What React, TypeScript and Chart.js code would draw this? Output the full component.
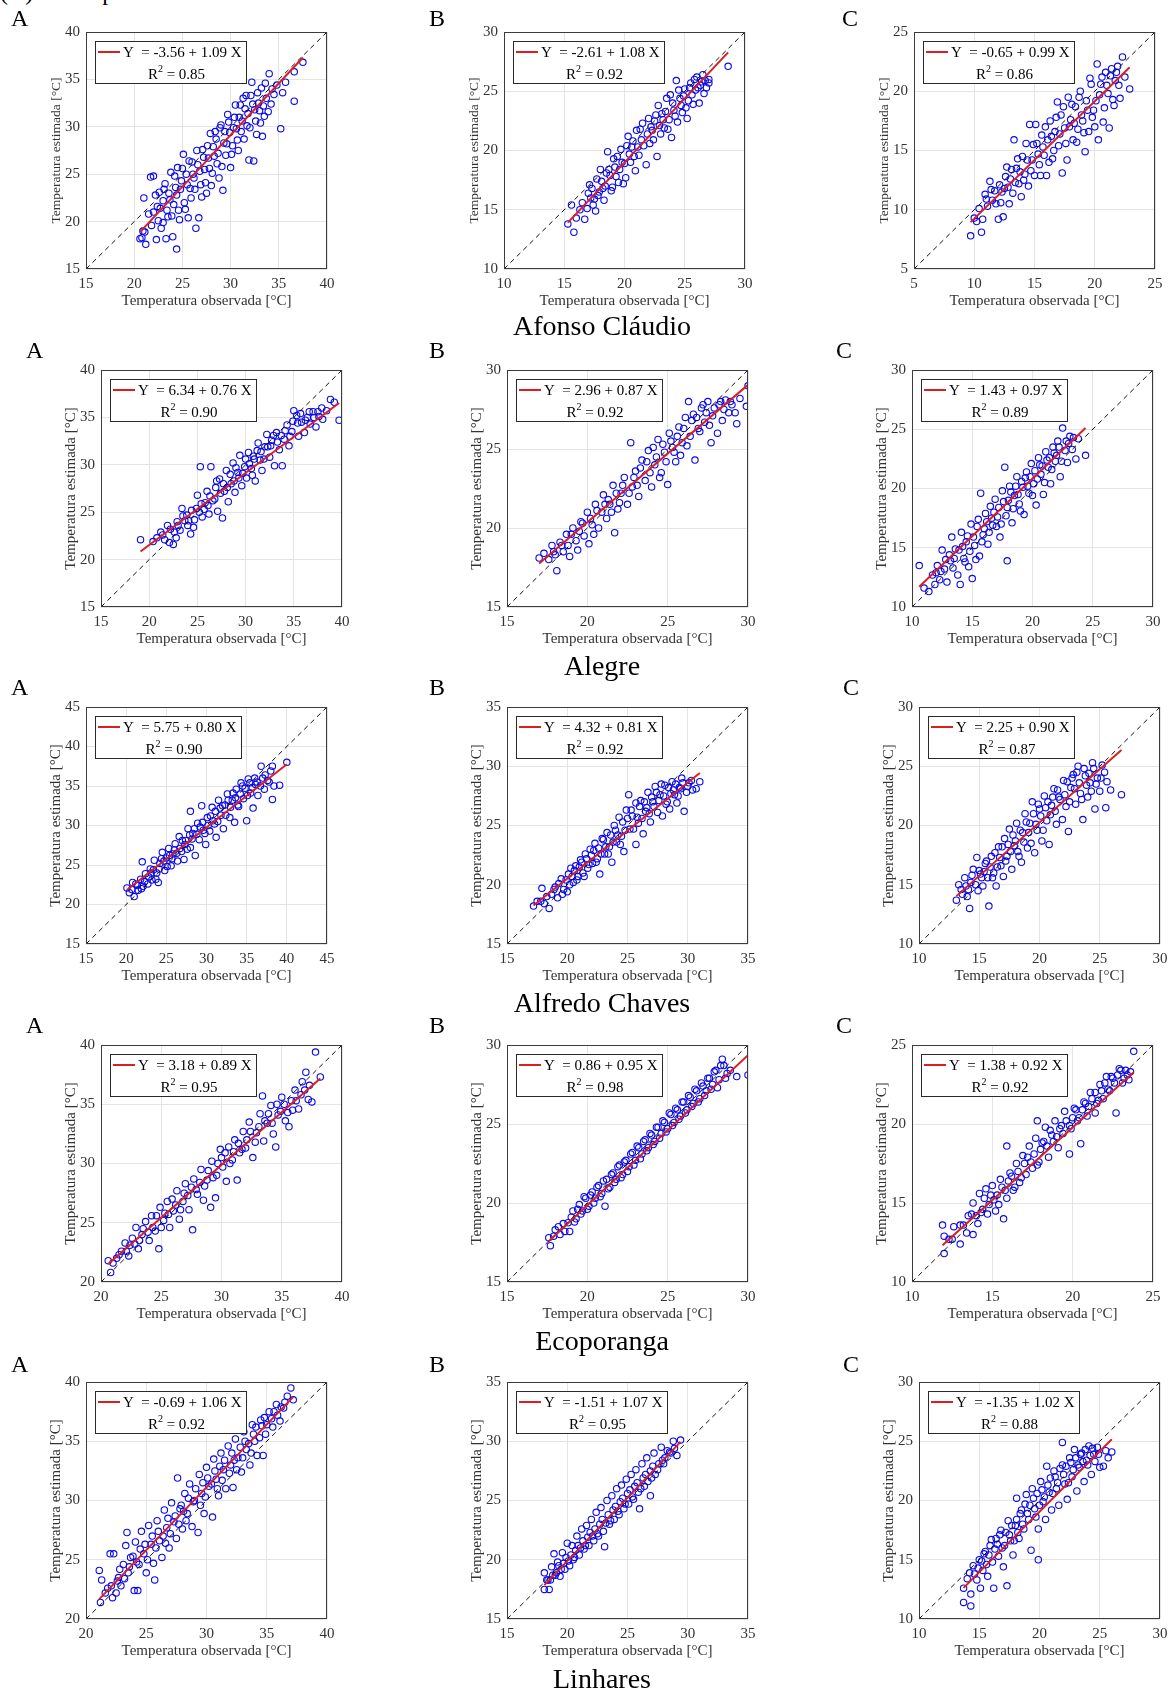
import React, { useEffect, useRef } from 'react';
import { Chart, registerables } from 'chart.js';

Chart.register(...registerables);

type Pt = [number, number];

// ---------- data: [observed, estimated] pairs ----------
const afonsoA: Pt[] = [[20.8,18.3],[20.9,19.0],[21.1,18.9],[21.2,17.6],[20.6,18.2],[21.0,22.5],[21.5,20.8],[21.7,24.7],[22.0,24.8],[21.8,19.6],[22.3,18.1],[22.4,21.6],[22.6,23.1],[22.8,19.3],[23.0,22.2],[23.2,24.0],[23.3,18.2],[23.5,20.5],[23.6,23.0],[23.8,25.2],[24.0,18.4],[24.1,21.8],[24.3,23.6],[24.4,17.1],[24.5,25.7],[24.7,20.2],[24.9,24.3],[25.1,27.1],[25.2,22.0],[25.4,25.0],[25.6,20.4],[25.8,23.5],[26.0,26.3],[26.2,24.6],[26.4,19.3],[26.5,27.5],[26.7,20.4],[26.8,25.3],[27.0,22.6],[27.2,26.8],[27.4,24.1],[27.6,28.0],[27.8,25.6],[28.0,23.8],[28.2,27.9],[28.4,29.5],[28.6,26.1],[28.8,24.6],[29.0,30.2],[29.2,23.3],[29.3,28.3],[29.5,27.0],[29.7,31.3],[29.9,29.4],[30.0,25.7],[30.2,28.0],[30.4,31.0],[30.6,29.8],[30.8,27.5],[31.0,32.3],[31.2,30.6],[31.4,28.7],[31.6,33.3],[31.8,31.4],[31.9,26.5],[32.0,29.9],[32.2,34.7],[32.3,32.4],[32.4,26.4],[32.6,30.6],[32.8,33.6],[33.0,31.7],[33.2,34.1],[33.3,29.0],[33.5,31.1],[33.7,33.0],[34.0,35.6],[34.2,32.4],[34.5,33.4],[34.8,34.4],[35.2,29.8],[35.4,33.6],[35.7,34.7],[36.6,32.7],[36.6,35.8],[37.5,36.8],
  [22.0,21.0],[22.2,22.8],[22.5,20.1],[22.7,21.4],[23.0,19.9],[23.1,23.4],[23.4,21.2],[23.7,22.3],[23.9,20.6],[24.2,24.8],[24.4,22.8],[24.6,21.2],[24.8,23.4],[25.0,25.6],[25.3,21.3],[25.5,23.9],[25.7,26.4],[25.9,22.5],[26.1,25.0],[26.3,23.4],[26.6,26.0],[26.9,23.9],[27.1,27.6],[27.3,25.5],[27.5,23.0],[27.7,26.7],[27.9,29.3],[28.1,25.1],[28.3,26.9],[28.5,28.7],[28.7,27.2],[28.9,29.9],[29.1,25.8],[29.4,29.5],[29.6,28.2],[29.8,30.5],[30.1,27.1],[30.3,29.9],[30.5,32.3],[30.7,28.6],[30.9,31.0],[31.1,29.5],[31.3,33.0],[31.5,31.9],[31.7,30.1],[32.1,33.3],[32.5,31.8],[32.7,29.2],[32.9,32.5],[33.1,30.4],[33.4,32.2],[33.6,34.6],[33.9,31.6],[34.3,34.0]];
const afonsoB: Pt[] = [[15.3,13.8],[15.6,15.4],[15.8,13.1],[16.0,14.3],[16.3,15.0],[16.5,15.6],[16.7,14.2],[16.9,15.1],[17.1,17.1],[17.2,16.0],[17.4,15.4],[17.6,14.9],[17.7,17.6],[17.9,16.5],[18.1,17.4],[18.3,15.8],[18.5,18.1],[18.6,19.9],[18.8,17.9],[19.0,16.9],[19.2,18.6],[19.4,19.5],[19.5,17.3],[19.7,20.1],[19.9,17.2],[20.0,18.9],[20.2,20.4],[20.3,21.2],[20.5,19.0],[20.7,20.8],[20.9,18.3],[21.0,21.7],[21.2,19.6],[21.4,20.9],[21.5,22.3],[21.8,18.8],[22.0,22.7],[22.1,20.6],[22.3,21.7],[22.5,22.5],[22.7,19.5],[22.8,23.8],[23.0,21.4],[23.2,22.6],[23.4,23.3],[23.6,21.8],[23.8,24.7],[23.9,21.1],[24.1,23.4],[24.3,25.9],[24.4,22.4],[24.6,24.4],[24.8,23.2],[25.0,25.2],[25.2,22.7],[25.3,24.2],[25.5,25.7],[25.7,23.9],[25.9,25.1],[26.0,26.2],[26.2,24.0],[26.3,25.5],[26.5,26.4],[26.6,24.8],[26.8,25.3],[27.0,26.0],[27.0,25.7],[28.6,27.1],
  [17.0,16.4],[17.3,16.8],[17.5,15.9],[17.8,16.2],[18.0,18.4],[18.2,16.8],[18.4,17.0],[18.7,18.4],[18.9,16.6],[19.1,19.3],[19.3,17.8],[19.6,18.4],[19.8,19.0],[20.1,17.7],[20.4,19.7],[20.6,20.3],[20.8,19.5],[21.1,20.3],[21.3,21.8],[21.6,20.4],[21.9,21.4],[22.2,22.0],[22.4,20.9],[22.6,23.0],[22.9,22.1],[23.1,23.1],[23.3,21.9],[23.5,24.4],[23.7,22.6],[24.0,24.0],[24.2,22.9],[24.5,25.1],[24.7,23.8],[24.9,24.6],[25.1,23.6],[25.4,25.3],[25.6,24.7],[25.8,26.0],[26.1,25.3],[26.4,25.8],[26.7,25.9]];
const afonsoC: Pt[] = [[9.7,7.8],[10.0,9.3],[10.2,9.0],[10.4,10.1],[10.6,8.1],[10.7,9.2],[10.9,11.3],[11.1,10.3],[11.3,12.4],[11.5,10.8],[11.7,11.6],[12.0,9.2],[12.1,12.1],[12.2,10.6],[12.4,9.4],[12.5,11.8],[12.7,13.6],[12.9,10.5],[13.0,12.6],[13.2,11.4],[13.3,15.9],[13.5,13.5],[13.7,12.2],[13.9,11.1],[14.0,14.5],[14.2,13.0],[14.3,15.6],[14.5,12.0],[14.6,17.2],[14.8,14.2],[15.0,12.9],[15.1,17.2],[15.2,15.6],[15.4,13.8],[15.6,16.3],[15.8,14.6],[16.0,12.9],[16.1,15.9],[16.3,17.5],[16.5,14.3],[16.7,16.6],[16.9,19.1],[17.0,15.4],[17.2,18.0],[17.3,13.1],[17.5,16.9],[17.7,14.2],[17.8,19.5],[18.0,17.6],[18.2,15.9],[18.4,18.7],[18.6,16.8],[18.8,20.0],[19.0,17.5],[19.2,14.9],[19.3,19.2],[19.5,16.6],[19.7,20.6],[19.9,18.4],[20.0,17.0],[20.2,22.3],[20.3,15.9],[20.4,19.7],[20.6,21.2],[20.8,18.6],[21.0,20.5],[21.2,16.9],[21.4,21.9],[21.5,19.3],[21.7,20.9],[21.9,22.1],[22.1,19.4],[22.3,22.9],[22.5,21.2],[22.9,20.2],
  [11.0,10.9],[11.4,11.7],[11.8,10.5],[12.3,11.5],[12.6,12.8],[12.8,11.9],[13.1,13.4],[13.4,12.3],[13.6,14.3],[13.8,13.2],[14.1,12.5],[14.4,14.2],[14.7,13.3],[14.9,15.5],[15.3,14.7],[15.5,12.9],[15.7,15.3],[15.9,17.0],[16.2,14.0],[16.4,16.2],[16.6,15.0],[16.8,17.8],[17.1,16.4],[17.4,18.7],[17.6,15.6],[17.9,17.0],[18.1,18.9],[18.3,17.3],[18.5,15.7],[18.7,19.5],[18.9,18.0],[19.1,16.5],[19.4,18.4],[19.6,21.1],[19.8,17.8],[20.1,19.2],[20.5,20.6],[20.7,17.4],[20.9,21.6],[21.1,19.8],[21.3,21.3],[21.6,18.8],[21.8,21.6],[22.0,20.5]];

const alegreA: Pt[] = [[19.1,22.1],[20.4,21.9],[20.8,22.3],[21.2,22.9],[21.6,22.1],[21.9,23.6],[22.1,21.8],[22.5,21.6],[22.6,22.9],[22.9,24.0],[23.2,23.1],[23.4,25.4],[23.7,24.1],[24.0,23.6],[24.3,22.7],[24.4,25.2],[24.7,24.2],[25.0,26.8],[25.2,25.0],[25.3,29.8],[25.5,24.5],[25.8,26.0],[26.0,27.2],[26.2,24.8],[26.4,29.8],[26.6,26.2],[26.9,27.6],[27.1,25.1],[27.3,28.5],[27.6,24.4],[27.8,27.2],[28.0,29.4],[28.2,26.1],[28.5,28.0],[28.7,30.2],[28.9,27.1],[29.2,29.2],[29.4,31.0],[29.6,27.8],[29.9,29.8],[30.1,28.6],[30.3,31.3],[30.6,29.6],[30.8,30.9],[31.0,28.3],[31.3,32.3],[31.5,30.5],[31.7,29.4],[32.0,31.9],[32.2,33.2],[32.5,30.8],[32.7,32.6],[33.0,29.9],[33.2,33.4],[33.5,31.6],[33.8,29.9],[34.0,32.7],[34.3,34.2],[34.5,32.0],[34.8,33.5],[35.0,35.7],[35.3,35.2],[35.5,33.0],[35.8,34.5],[36.1,33.4],[36.4,35.0],[36.7,34.3],[37.0,35.6],[37.3,34.0],[37.6,35.1],[38.0,34.8],[38.4,35.7],[38.8,36.9],[39.2,36.6],[39.7,34.7],
  [21.4,22.6],[22.2,23.2],[22.8,22.3],[23.0,23.6],[23.5,24.6],[23.9,24.7],[24.1,24.1],[24.6,23.4],[24.9,25.4],[25.4,25.9],[25.7,25.3],[26.1,25.7],[26.3,26.7],[26.8,26.4],[27.0,28.3],[27.4,27.0],[27.7,28.0],[28.1,27.6],[28.4,29.0],[28.8,28.3],[29.0,29.7],[29.3,28.6],[29.7,29.1],[30.0,30.6],[30.4,30.1],[30.7,28.9],[30.9,30.6],[31.2,31.5],[31.6,31.4],[31.9,30.6],[32.3,31.9],[32.6,32.0],[32.9,33.1],[33.3,32.4],[33.7,33.1],[34.1,33.6],[34.6,33.0],[34.9,34.6],[35.4,34.4],[35.7,35.4],[36.2,34.7],[36.6,35.6],[37.1,35.0],[37.5,35.6],[37.9,36.0]];
const alegreB: Pt[] = [[17.0,18.1],[17.3,18.4],[17.6,18.0],[17.8,18.9],[18.0,18.3],[18.1,17.3],[18.3,19.1],[18.5,18.5],[18.7,19.6],[18.9,18.2],[19.1,20.0],[19.3,19.2],[19.4,18.6],[19.6,20.4],[19.8,19.5],[20.0,21.0],[20.1,19.0],[20.3,20.2],[20.5,21.5],[20.7,20.0],[20.9,21.0],[21.0,22.1],[21.2,20.6],[21.4,21.5],[21.6,22.7],[21.7,19.7],[21.9,21.2],[22.1,22.2],[22.3,23.2],[22.5,21.5],[22.7,25.4],[22.8,22.6],[23.0,23.6],[23.2,22.0],[23.4,24.3],[23.6,23.0],[23.8,24.9],[24.0,22.6],[24.2,24.0],[24.4,25.6],[24.6,23.5],[24.8,24.8],[25.0,22.75],[25.1,26.0],[25.3,25.1],[25.5,24.2],[25.7,26.4],[25.9,25.4],[26.1,27.0],[26.3,28.0],[26.4,25.8],[26.6,27.2],[26.7,24.3],[26.9,26.3],[27.1,27.6],[27.3,26.7],[27.5,28.0],[27.7,25.4],[27.8,27.1],[28.1,26.0],[28.2,27.8],[28.4,26.8],[28.6,28.1],[28.8,27.3],[29.0,27.8],[29.3,26.6],[29.5,28.2],[29.9,27.7],[30.0,29.0],
  [17.9,18.5],[18.4,18.9],[18.8,18.9],[19.0,19.6],[19.5,19.8],[19.7,20.3],[20.2,20.6],[20.4,19.6],[20.6,21.1],[21.1,21.5],[21.3,21.8],[21.5,21.0],[21.8,22.2],[22.0,21.6],[22.2,22.7],[22.6,22.2],[22.9,23.2],[23.1,22.7],[23.3,23.8],[23.7,24.2],[23.9,23.5],[24.1,25.1],[24.3,24.5],[24.5,23.2],[24.7,25.3],[24.9,24.2],[25.2,25.5],[25.4,24.8],[25.6,25.8],[25.8,24.6],[26.0,26.3],[26.2,25.2],[26.5,26.8],[26.8,27.0],[27.0,26.1],[27.2,27.8],[27.4,27.3],[27.6,26.5],[27.9,27.6],[28.3,28.0],[28.5,27.5],[28.9,28.0],[29.2,27.3]];
const alegreC: Pt[] = [[10.6,13.5],[11.0,11.6],[11.4,11.3],[11.7,12.7],[11.9,11.9],[12.1,13.5],[12.3,12.3],[12.5,14.8],[12.7,13.2],[12.9,12.1],[13.1,14.4],[13.3,15.9],[13.4,13.3],[13.6,14.9],[13.8,12.7],[14.0,11.9],[14.1,16.3],[14.3,14.1],[14.5,15.5],[14.7,13.4],[14.9,17.0],[15.0,12.4],[15.2,15.2],[15.4,16.8],[15.6,14.3],[15.7,19.6],[15.9,16.1],[16.1,17.9],[16.3,15.3],[16.5,18.5],[16.7,16.9],[16.9,19.1],[17.1,17.6],[17.3,15.9],[17.5,19.8],[17.7,21.8],[17.9,13.9],[17.9,18.4],[18.1,20.2],[18.3,17.1],[18.5,19.4],[18.7,21.0],[18.9,18.7],[19.1,20.6],[19.3,17.8],[19.5,21.4],[19.7,19.6],[19.9,22.1],[20.1,20.4],[20.3,18.6],[20.5,22.6],[20.7,21.2],[20.9,19.5],[21.1,23.1],[21.3,21.8],[21.5,20.4],[21.7,23.5],[21.9,22.3],[22.1,24.0],[22.3,21.0],[22.5,25.1],[22.7,23.2],[22.9,22.2],[23.1,24.4],[23.3,23.3],[23.6,22.5],[23.8,24.2],[24.4,22.8],
  [12.0,12.9],[12.4,13.0],[12.8,14.0],[13.2,13.9],[13.5,14.1],[13.9,14.8],[14.2,15.1],[14.4,13.8],[14.6,16.0],[14.8,14.7],[15.1,15.9],[15.3,14.0],[15.5,17.4],[15.8,15.5],[16.0,16.6],[16.2,17.2],[16.4,16.3],[16.6,17.5],[16.8,18.0],[17.0,16.8],[17.2,18.4],[17.4,17.0],[17.6,18.9],[17.8,17.7],[18.0,19.0],[18.2,19.7],[18.4,18.3],[18.6,20.2],[18.8,19.5],[19.0,18.1],[19.2,20.1],[19.4,20.9],[19.6,20.2],[19.8,21.0],[20.0,19.4],[20.2,21.5],[20.4,20.8],[20.6,22.0],[20.8,21.9],[21.0,20.5],[21.2,22.4],[21.4,22.6],[21.6,21.6],[21.8,23.0],[22.0,22.8],[22.2,23.5],[22.4,22.3],[22.8,24.0],[23.0,23.8],[23.4,24.3]];

const alfredoA: Pt[] = [[20.1,22.1],[20.4,21.5],[20.7,21.9],[21.0,21.0],[21.2,22.6],[21.5,21.8],[21.8,23.2],[22.0,25.4],[22.1,22.3],[22.4,23.9],[22.7,22.6],[23.0,24.5],[23.2,23.1],[23.5,25.6],[23.8,24.0],[24.0,22.8],[24.2,25.2],[24.5,26.6],[24.8,24.3],[25.0,25.9],[25.3,27.1],[25.6,24.9],[25.8,26.4],[26.1,27.7],[26.4,25.5],[26.6,28.6],[26.9,26.7],[27.2,25.7],[27.4,28.1],[27.7,29.6],[28.0,31.8],[28.0,27.2],[28.3,29.0],[28.6,26.2],[28.9,30.3],[29.1,28.2],[29.4,32.5],[29.6,29.4],[29.9,27.6],[30.1,31.0],[30.4,29.3],[30.7,32.3],[31.0,30.2],[31.2,28.5],[31.5,33.2],[31.8,31.3],[32.1,29.6],[32.3,32.6],[32.6,34.0],[32.9,31.0],[33.2,33.2],[33.5,30.4],[33.7,34.6],[34.0,32.4],[34.3,35.4],[34.6,33.4],[35.0,30.6],[35.2,35.9],[35.5,34.1],[35.8,32.2],[36.1,35.2],[36.4,33.8],[36.8,37.5],[37.0,36.0],[37.2,34.6],[37.6,35.7],[38.0,36.9],[38.2,33.3],[38.4,35.0],[39.1,35.1],[40.0,38.0],
  [20.8,22.8],[21.4,22.4],[21.9,22.0],[22.3,22.9],[22.8,23.5],[23.1,24.0],[23.4,24.4],[23.7,23.2],[24.1,24.5],[24.4,25.8],[24.7,25.5],[25.1,24.8],[25.4,26.2],[25.7,25.8],[26.0,26.9],[26.3,26.5],[26.7,27.1],[27.0,28.1],[27.3,27.6],[27.6,27.0],[27.9,28.8],[28.2,28.3],[28.5,29.6],[28.8,28.9],[29.2,29.8],[29.5,30.4],[29.8,29.0],[30.2,30.0],[30.5,31.2],[30.8,30.6],[31.1,31.8],[31.4,30.5],[31.7,32.2],[32.0,32.5],[32.4,31.3],[32.7,33.2],[33.0,32.3],[33.3,34.1],[33.6,33.5],[33.9,32.6],[34.2,34.0],[34.5,35.0],[34.8,34.7],[35.1,33.8],[35.4,35.4],[35.7,34.8],[36.0,36.0],[36.3,35.5],[36.7,35.0],[37.3,36.4],[37.8,35.5],[38.2,37.5]];
const alfredoB: Pt[] = [[17.2,18.2],[17.5,18.6],[17.9,19.7],[18.1,18.4],[18.5,18.0],[18.7,19.2],[19.0,19.8],[19.2,18.9],[19.5,20.5],[19.7,19.6],[20.0,19.4],[20.1,20.9],[20.3,21.4],[20.5,20.2],[20.7,21.6],[20.9,20.7],[21.1,22.1],[21.3,21.0],[21.5,22.6],[21.7,21.4],[21.9,23.0],[22.1,21.8],[22.3,23.5],[22.5,22.2],[22.7,20.9],[22.9,23.9],[23.1,22.6],[23.3,24.4],[23.5,23.2],[23.7,21.9],[23.9,25.0],[24.1,23.6],[24.3,25.7],[24.5,24.1],[24.7,22.8],[24.9,26.3],[25.1,27.6],[25.2,24.7],[25.4,25.8],[25.7,23.4],[25.7,26.9],[25.9,25.2],[26.1,27.1],[26.3,24.3],[26.5,26.2],[26.7,27.8],[26.9,25.3],[27.1,27.0],[27.3,28.3],[27.5,26.1],[27.7,27.6],[27.9,25.8],[28.1,28.4],[28.3,27.0],[28.5,26.4],[28.7,28.7],[28.9,27.6],[29.1,26.9],[29.3,28.2],[29.5,29.0],[29.7,26.2],[29.9,27.8],[30.1,28.6],[30.4,28.0],[30.7,28.1],[31.0,28.7],
  [17.8,18.6],[18.3,19.0],[18.9,19.6],[19.3,20.1],[19.6,19.2],[19.9,20.4],[20.2,20.0],[20.4,20.7],[20.6,21.2],[20.8,20.4],[21.0,21.5],[21.2,21.9],[21.4,20.7],[21.6,22.2],[21.8,21.7],[22.0,22.5],[22.2,22.9],[22.4,21.9],[22.6,23.1],[22.8,22.6],[23.0,23.8],[23.2,23.2],[23.4,22.6],[23.6,24.2],[23.8,23.6],[24.0,24.6],[24.2,24.2],[24.4,23.4],[24.6,25.3],[24.8,24.6],[25.0,25.6],[25.3,26.3],[25.5,24.7],[25.8,25.7],[26.0,26.6],[26.2,25.6],[26.4,27.0],[26.6,26.5],[26.8,26.0],[27.0,27.4],[27.2,26.6],[27.4,27.8],[27.6,27.1],[27.8,28.5],[28.0,27.5],[28.2,26.8],[28.4,28.2],[28.6,27.7],[28.8,28.0],[29.0,28.5],[29.2,27.5],[29.4,28.1],[29.6,28.6],[30.0,28.3],[30.3,28.8]];
const alfredoC: Pt[] = [[13.1,13.7],[13.3,15.0],[13.6,14.2],[13.8,15.6],[14.0,14.0],[14.2,13.0],[14.3,15.2],[14.5,16.3],[14.8,17.3],[14.9,14.5],[15.1,15.9],[15.3,14.9],[15.5,16.8],[15.7,15.6],[15.8,13.2],[16.0,17.4],[16.2,16.0],[16.4,14.9],[16.6,18.2],[16.8,16.6],[17.0,15.7],[17.1,18.9],[17.3,17.4],[17.5,19.7],[17.7,16.3],[17.9,18.3],[18.1,20.2],[18.3,17.4],[18.5,16.9],[18.6,19.4],[18.8,21.0],[19.0,18.1],[19.2,20.2],[19.4,22.0],[19.6,17.7],[19.8,19.6],[20.0,21.4],[20.2,18.7],[20.4,22.5],[20.6,20.4],[20.8,18.4],[21.0,21.7],[21.2,23.1],[21.4,20.1],[21.6,22.4],[21.9,20.5],[22.0,23.8],[22.2,21.6],[22.4,19.5],[22.6,23.2],[22.8,24.3],[23.0,21.8],[23.2,25.0],[23.4,22.7],[23.6,20.5],[23.8,24.2],[24.0,22.4],[24.2,23.6],[24.4,25.3],[24.6,21.4],[24.8,24.0],[25.0,22.9],[25.2,25.1],[25.5,21.5],[25.6,23.7],[25.9,23.0],[26.8,22.6],
  [13.5,14.6],[13.9,14.9],[14.1,14.6],[14.4,15.8],[14.7,15.0],[15.0,16.2],[15.2,15.6],[15.4,16.1],[15.6,17.0],[15.9,16.5],[16.1,15.6],[16.3,17.7],[16.5,16.5],[16.7,17.3],[16.9,18.2],[17.2,17.0],[17.4,18.4],[17.6,17.8],[17.8,19.2],[18.0,18.7],[18.2,17.8],[18.4,19.6],[18.7,18.6],[18.9,20.3],[19.1,19.4],[19.3,18.5],[19.5,21.0],[19.7,20.1],[19.9,21.8],[20.1,20.8],[20.3,19.6],[20.5,21.5],[20.7,22.0],[20.9,20.9],[21.1,22.4],[21.3,21.2],[21.5,23.0],[21.7,22.2],[22.1,22.6],[22.3,23.7],[22.5,22.0],[22.7,24.0],[22.9,23.1],[23.1,24.5],[23.3,23.6],[23.5,22.2],[23.7,24.8],[23.9,23.4],[24.1,24.4],[24.3,22.9],[24.5,24.8],[24.7,23.5],[25.1,24.0],[25.4,24.5]];

const ecoporangaA: Pt[] = [[20.6,21.8],[20.8,20.8],[21.3,22.0],[21.7,22.6],[22.0,23.3],[22.3,22.2],[22.6,23.7],[22.9,24.6],[23.1,22.8],[23.4,24.0],[23.7,25.1],[24.0,23.5],[24.2,25.6],[24.5,24.3],[24.8,22.8],[24.9,26.3],[25.2,25.2],[25.5,26.8],[25.7,24.6],[26.0,26.0],[26.3,27.7],[26.5,25.3],[26.8,26.8],[27.0,28.3],[27.3,26.1],[27.6,24.4],[27.7,28.7],[28.0,27.4],[28.3,29.5],[28.5,26.9],[28.8,28.6],[29.1,26.3],[29.2,30.2],[29.5,27.1],[29.6,29.0],[29.9,31.2],[30.1,29.7],[30.4,28.5],[30.6,31.4],[30.9,30.3],[31.1,32.0],[31.3,28.6],[31.5,30.9],[31.8,32.7],[32.0,31.3],[32.3,33.5],[32.6,30.5],[32.9,32.6],[33.2,34.2],[33.4,35.7],[33.5,31.9],[33.8,33.4],[34.1,34.9],[34.3,32.5],[34.5,31.4],[34.7,34.1],[35.0,35.6],[35.3,33.6],[35.6,33.1],[35.8,35.3],[36.1,36.2],[36.4,34.6],[36.7,36.9],[37.0,37.7],[37.2,35.4],[37.5,35.2],[37.8,39.4],[38.2,37.3],
  [21.0,21.6],[21.5,22.3],[22.1,22.6],[22.4,23.1],[22.8,23.2],[23.2,23.5],[23.5,24.5],[23.9,24.2],[24.3,24.6],[24.6,25.6],[25.0,24.6],[25.3,25.8],[25.6,25.7],[25.9,27.0],[26.2,26.5],[26.6,26.1],[26.9,27.5],[27.2,27.3],[27.5,28.0],[27.9,27.8],[28.2,28.4],[28.6,28.1],[28.9,29.4],[29.3,28.8],[29.7,30.0],[30.0,30.5],[30.3,30.9],[30.7,30.0],[31.0,31.0],[31.4,31.7],[31.7,31.2],[32.1,32.0],[32.4,32.7],[32.8,31.8],[33.1,33.1],[33.6,33.6],[33.9,34.2],[34.2,33.4],[34.6,35.0],[34.9,34.4],[35.2,35.0],[35.5,34.3],[35.9,34.5],[36.2,35.3],[36.6,35.8],[36.9,36.2],[37.3,36.6]];
const ecoporangaB: Pt[] = [[17.6,17.8],[17.7,17.3],[18.0,18.3],[18.3,18.0],[18.5,18.7],[18.8,18.75],[18.9,18.2],[19.1,19.5],[19.3,19.0],[19.5,19.9],[19.6,19.3],[19.8,20.4],[20.0,19.6],[20.2,20.5],[20.4,20.0],[20.6,21.0],[20.8,20.4],[21.0,21.4],[21.1,19.8],[21.3,20.9],[21.5,21.8],[21.7,21.3],[21.9,22.3],[22.1,21.6],[22.3,22.6],[22.5,22.0],[22.7,23.1],[22.9,22.4],[23.1,23.6],[23.3,22.8],[23.5,23.9],[23.7,23.3],[23.9,24.4],[24.1,23.7],[24.3,24.8],[24.5,24.1],[24.7,25.2],[24.9,24.5],[25.1,25.7],[25.3,24.9],[25.5,26.0],[25.7,25.3],[25.9,26.4],[26.1,25.7],[26.3,26.8],[26.5,26.1],[26.7,27.2],[26.9,26.4],[27.1,27.6],[27.3,26.8],[27.5,27.9],[27.7,27.2],[27.9,28.3],[28.1,27.3],[28.3,28.7],[28.4,29.1],[28.6,27.9],[28.9,28.4],[29.3,28.0],[30.0,28.1],
  [17.9,17.9],[18.2,18.5],[18.6,18.2],[19.0,19.1],[19.2,18.8],[19.4,19.6],[19.7,19.5],[19.9,20.3],[20.1,19.8],[20.3,20.7],[20.5,20.3],[20.7,21.1],[20.9,20.6],[21.2,21.5],[21.4,21.0],[21.6,21.9],[21.8,21.5],[22.0,22.4],[22.2,21.8],[22.4,22.7],[22.6,22.3],[22.8,23.2],[23.0,22.7],[23.2,23.5],[23.4,23.1],[23.6,24.0],[23.8,23.5],[24.0,24.3],[24.2,23.9],[24.4,24.8],[24.6,24.4],[24.8,25.1],[25.0,24.7],[25.2,25.6],[25.4,25.1],[25.6,25.9],[25.8,25.5],[26.0,26.4],[26.2,25.9],[26.4,26.7],[26.6,26.3],[26.8,27.1],[27.0,26.6],[27.2,27.4],[27.4,27.1],[27.6,27.9],[27.8,27.5],[28.0,28.4],[28.2,27.8],[28.5,28.7],[28.7,28.2]];
const ecoporangaC: Pt[] = [[11.9,13.6],[12.0,11.8],[12.0,12.9],[12.3,12.7],[12.6,13.5],[13.0,12.4],[13.2,13.6],[13.5,14.2],[13.8,13.0],[13.8,15.0],[14.0,14.2],[14.2,15.6],[14.4,14.6],[14.6,15.9],[14.8,14.9],[15.0,16.1],[15.2,14.5],[15.3,15.5],[15.5,16.5],[15.7,14.0],[15.9,18.6],[15.9,15.3],[16.1,16.9],[16.3,15.8],[16.5,17.5],[16.7,16.3],[16.9,18.0],[17.1,16.8],[17.3,18.6],[17.5,17.2],[17.7,19.1],[17.8,20.2],[17.9,17.6],[18.1,18.8],[18.3,19.8],[18.5,17.9],[18.7,19.3],[18.9,20.2],[19.1,18.5],[19.3,19.9],[19.5,20.8],[19.8,18.1],[19.9,19.7],[20.1,21.0],[20.3,20.2],[20.5,18.75],[20.7,21.4],[20.9,20.5],[21.1,22.0],[21.4,20.7],[21.5,21.3],[21.7,22.5],[21.9,21.6],[22.1,23.0],[22.3,22.1],[22.5,22.9],[22.7,20.7],[22.9,23.5],[23.1,22.6],[23.3,23.4],[23.5,22.8],[23.8,24.6],
  [12.5,12.7],[13.0,13.6],[13.4,13.1],[13.7,14.3],[14.1,13.7],[14.3,14.4],[14.5,15.3],[14.7,14.3],[14.9,15.5],[15.1,15.2],[15.4,14.9],[15.6,16.0],[15.8,15.8],[16.0,16.4],[16.2,16.7],[16.4,16.0],[16.6,17.0],[16.8,16.6],[17.0,17.5],[17.2,17.9],[17.4,17.6],[17.6,18.1],[17.8,17.4],[18.0,18.4],[18.2,18.9],[18.4,18.6],[18.6,19.6],[18.8,18.9],[19.0,19.2],[19.2,19.7],[19.4,19.4],[19.6,20.2],[19.8,19.9],[20.0,20.4],[20.2,20.9],[20.4,20.4],[20.6,20.9],[20.8,21.3],[21.0,21.1],[21.2,21.6],[21.4,22.0],[21.6,21.5],[21.8,22.1],[22.0,22.6],[22.2,22.2],[22.4,23.0],[22.6,22.6],[22.8,23.1],[23.0,23.4],[23.2,22.9],[23.4,23.1],[23.6,23.3]];

const linharesA: Pt[] = [[21.1,24.1],[21.2,21.4],[21.3,23.3],[21.8,22.6],[22.0,25.5],[22.2,21.8],[22.3,25.5],[22.5,22.2],[22.7,23.5],[22.9,22.8],[23.1,24.6],[23.3,26.2],[23.4,27.3],[23.5,23.9],[23.7,25.2],[24.0,22.4],[24.1,26.5],[24.3,22.4],[24.4,24.6],[24.6,27.4],[24.8,25.5],[25.0,23.9],[25.2,27.9],[25.4,26.3],[25.6,24.7],[25.7,23.3],[25.9,28.3],[26.1,26.6],[26.3,25.2],[26.5,29.2],[26.7,27.7],[26.9,26.0],[27.1,29.8],[27.3,28.2],[27.5,26.8],[27.6,31.9],[27.8,29.3],[28.0,27.6],[28.2,30.6],[28.4,28.9],[28.6,31.4],[28.8,27.8],[29.0,30.0],[29.3,27.3],[29.4,32.2],[29.6,30.6],[29.8,28.9],[30.0,32.8],[30.2,31.2],[30.5,28.6],[30.6,33.5],[30.8,31.8],[31.0,30.4],[31.2,34.0],[31.4,32.6],[31.6,31.0],[31.8,34.6],[32.0,33.0],[32.2,31.1],[32.4,35.2],[32.6,33.6],[32.9,32.4],[33.1,35.8],[33.3,34.3],[33.6,33.0],[33.8,36.4],[34.0,35.0],[34.2,33.8],[34.5,36.8],[34.7,33.8],[34.9,35.6],[35.2,37.5],[35.5,36.2],[35.8,38.1],[36.1,36.7],[36.4,37.8],[36.7,38.8],[37.0,39.5],[37.2,38.5],
  [21.6,22.2],[22.1,22.8],[22.6,23.2],[22.8,24.2],[23.2,23.4],[23.6,24.4],[23.9,25.3],[24.2,24.8],[24.5,25.9],[24.9,26.3],[25.1,25.0],[25.5,27.0],[25.8,26.0],[26.0,27.4],[26.4,27.0],[26.6,26.4],[26.8,28.5],[27.0,27.2],[27.4,28.7],[27.7,28.0],[27.9,29.6],[28.1,29.1],[28.3,28.3],[28.5,30.2],[28.9,29.9],[29.1,31.0],[29.5,29.6],[29.7,31.5],[29.9,30.3],[30.1,31.9],[30.4,31.4],[30.7,32.5],[30.9,31.0],[31.1,32.9],[31.3,31.7],[31.5,33.4],[31.9,32.3],[32.1,34.0],[32.3,33.4],[32.5,32.6],[32.8,34.5],[33.0,33.6],[33.2,35.0],[33.5,34.8],[33.7,34.0],[33.9,35.6],[34.1,36.2],[34.4,35.3],[34.6,36.3],[34.8,37.0],[35.0,36.4],[35.4,36.9],[35.6,37.5],[35.9,37.2],[36.2,37.9],[36.5,38.3]];
const linharesB: Pt[] = [[18.1,17.5],[18.1,18.9],[18.4,18.3],[18.5,17.5],[18.7,19.4],[18.9,20.5],[19.0,18.7],[19.2,19.8],[19.4,18.6],[19.6,20.6],[19.8,19.2],[20.0,21.4],[20.2,19.5],[20.4,21.2],[20.6,20.2],[20.8,22.0],[21.0,20.4],[21.2,22.6],[21.4,20.9],[21.6,22.9],[21.8,21.2],[22.0,23.4],[22.2,21.6],[22.4,24.0],[22.6,22.0],[22.8,24.4],[23.0,22.4],[23.1,21.1],[23.3,25.0],[23.5,23.0],[23.7,25.4],[23.9,23.4],[24.1,26.0],[24.3,23.8],[24.5,26.3],[24.7,24.3],[24.9,26.8],[25.1,24.7],[25.3,27.2],[25.5,25.1],[25.7,27.6],[25.9,25.7],[26.0,24.3],[26.2,28.1],[26.4,26.2],[26.6,28.6],[26.9,25.4],[27.0,26.9],[27.2,29.0],[27.5,27.6],[27.8,29.5],[28.0,28.1],[28.3,29.2],[28.6,29.0],[28.8,30.0],[29.1,28.8],[29.4,30.1],
  [18.3,18.3],[18.6,18.3],[18.8,18.7],[19.1,18.9],[19.3,19.5],[19.5,19.2],[19.7,19.7],[19.9,20.2],[20.1,19.9],[20.3,20.4],[20.5,20.0],[20.7,20.8],[20.9,21.2],[21.1,21.0],[21.3,21.6],[21.5,21.2],[21.7,21.9],[21.9,22.3],[22.1,22.0],[22.3,22.6],[22.5,22.2],[22.7,23.0],[22.9,23.4],[23.2,23.1],[23.4,23.8],[23.6,23.3],[23.8,24.2],[24.0,24.5],[24.2,24.1],[24.4,24.9],[24.6,25.2],[24.8,24.7],[25.0,25.6],[25.2,25.9],[25.4,25.3],[25.6,26.2],[25.8,26.5],[26.1,26.0],[26.3,26.9],[26.5,27.2],[26.7,26.6],[26.9,27.5],[27.1,27.9],[27.3,27.2],[27.6,28.1],[27.9,28.4],[28.1,28.6],[28.5,29.1],[28.9,29.4]];
const linharesC: Pt[] = [[13.7,11.4],[13.7,12.6],[14.0,13.4],[14.3,11.1],[14.3,12.1],[14.5,14.5],[14.8,13.3],[15.0,15.0],[15.1,12.6],[15.3,14.1],[15.5,15.7],[15.7,13.6],[15.9,16.2],[16.1,14.8],[16.2,12.6],[16.4,16.8],[16.6,15.3],[16.8,17.5],[17.0,14.4],[17.1,16.2],[17.3,12.8],[17.4,18.3],[17.6,16.6],[17.8,15.4],[18.0,17.9],[18.1,20.2],[18.3,16.8],[18.5,19.2],[18.7,17.6],[18.9,20.5],[19.1,18.4],[19.3,15.8],[19.4,21.0],[19.6,19.3],[19.9,15.0],[19.9,17.6],[20.1,21.6],[20.3,19.9],[20.5,18.4],[20.6,22.9],[20.8,20.7],[21.0,19.2],[21.2,22.5],[21.4,21.0],[21.6,19.6],[21.9,24.9],[21.9,23.0],[22.1,21.4],[22.3,20.1],[22.5,23.6],[22.7,22.0],[22.9,24.3],[23.1,20.8],[23.3,22.8],[23.5,24.0],[23.7,21.6],[23.9,23.4],[24.1,24.6],[24.3,22.2],[24.5,23.9],[24.8,24.5],[25.0,22.8],[25.3,22.9],[25.5,24.2],[25.7,23.6],[26.0,24.1],
  [14.2,13.9],[14.6,13.8],[14.9,14.3],[15.2,14.9],[15.4,15.5],[15.6,14.6],[15.8,15.4],[16.0,16.7],[16.3,15.9],[16.5,16.3],[16.7,17.1],[16.9,16.0],[17.2,17.3],[17.5,17.1],[17.7,17.9],[17.9,16.6],[18.1,18.4],[18.2,17.3],[18.4,18.9],[18.6,18.0],[18.8,19.7],[19.0,18.9],[19.2,19.6],[19.5,20.2],[19.7,18.6],[19.8,20.6],[20.0,19.6],[20.2,20.9],[20.4,20.3],[20.7,21.3],[20.9,21.9],[21.1,20.6],[21.3,22.0],[21.5,21.5],[21.7,22.7],[22.0,22.2],[22.2,22.9],[22.4,21.5],[22.6,23.2],[22.8,22.6],[23.0,23.6],[23.2,23.0],[23.4,23.9],[23.6,23.3],[23.8,24.3],[24.0,23.0],[24.2,23.8],[24.4,24.4],[24.6,23.3],[24.9,23.9]];

// regression [intercept, slope, R²] for panels A, B, C
const afonsoFit = [[-3.56, 1.09, 0.85], [-2.61, 1.08, 0.92], [-0.65, 0.99, 0.86]];
const alegreFit = [[6.34, 0.76, 0.90], [2.96, 0.87, 0.92], [1.43, 0.97, 0.89]];
const alfredoFit = [[5.75, 0.80, 0.90], [4.32, 0.81, 0.92], [2.25, 0.90, 0.87]];
const ecoporangaFit = [[3.18, 0.89, 0.95], [0.86, 0.95, 0.98], [1.38, 0.92, 0.92]];
const linharesFit = [[-0.69, 1.06, 0.92], [-1.51, 1.07, 0.95], [-1.35, 1.02, 0.88]];

// axis limits (same on both axes), tick step 5
const afonsoRange = [[15, 40], [10, 30], [5, 25]];
const alegreRange = [[15, 40], [15, 30], [10, 30]];
const alfredoRange = [[15, 45], [15, 35], [10, 30]];
const ecoporangaRange = [[20, 40], [15, 30], [10, 25]];
const linharesRange = [[20, 40], [15, 35], [10, 30]];

const stations = ['Afonso Cláudio', 'Alegre', 'Alfredo Chaves', 'Ecoporanga', 'Linhares'];
const panelLetters = ['A', 'B', 'C'];
const tickStep = 5;

const stationPoints = [
  [afonsoA, afonsoB, afonsoC],
  [alegreA, alegreB, alegreC],
  [alfredoA, alfredoB, alfredoC],
  [ecoporangaA, ecoporangaB, ecoporangaC],
  [linharesA, linharesB, linharesC],
];
const stationFits = [afonsoFit, alegreFit, alfredoFit, ecoporangaFit, linharesFit];
const stationRanges = [afonsoRange, alegreRange, alfredoRange, ecoporangaRange, linharesRange];

// ---------- layout ----------
const PAGE_W = 1168;
const PAGE_H = 1693;
const plotLefts = [[86, 504, 914], [101, 507, 912], [86, 507, 919], [101, 507, 912], [86, 507, 919]];
const plotTops = [29, 367, 704, 1042, 1379];
const plotW = 241;
const plotH = 240;
const letterLefts = [[11, 429, 842], [26, 429, 836], [11, 429, 843], [26, 429, 836], [11, 429, 843]];
const letterBaselines = [26, 358, 695, 1033, 1372];
const titleBaselines = [335, 675, 1012, 1350, 1688];
const yTitleSizes = [13.5, 15, 15, 15, 15];

const PAD_L = 70;
const PAD_T = 12;
const PAD_R = 20;
const PAD_B = 50;
const SERIF = '"Liberation Serif", "Times New Roman", serif';
const RED = '#da1f1f';
const BLUE = '#0a0ae8';

type PanelProps = {
  pts: Pt[];
  range: number[];
  fit: number[];
  left: number;
  top: number;
  yTitleSize: number;
};

function Panel({ pts, range, fit, left, top, yTitleSize }: PanelProps) {
  const ref = useRef<HTMLCanvasElement | null>(null);
  const W = plotW + PAD_L + PAD_R;
  const H = plotH + PAD_T + PAD_B;

  useEffect(() => {
    if (!ref.current) return;
    const [lo, hi] = range;
    const [a, b, r2] = fit;
    const xs = pts.map((p) => p[0]);
    const xMin = Math.min(...xs);
    const xMax = Math.max(...xs);

    const framePlugin = {
      id: 'frame',
      afterDatasetsDraw(chart: any) {
        const { ctx, chartArea } = chart;
        const { left: l, top: t, right: r, bottom: btm } = chartArea;
        ctx.save();
        // axes box
        ctx.strokeStyle = '#3c3c3c';
        ctx.lineWidth = 1;
        ctx.strokeRect(l + 0.5, t + 0.5, r - l - 1, btm - t - 1);

        // legend with fitted equation
        ctx.font = `15px ${SERIF}`;
        const eq = `Y  = ${a.toFixed(2)} + ${b.toFixed(2)} X`;
        const tw = ctx.measureText(eq).width;
        const bx = l + 9;
        const by = t + 9;
        const bw = Math.round(tw + 32);
        const bh = 42;
        ctx.fillStyle = '#ffffff';
        ctx.fillRect(bx, by, bw, bh);
        ctx.strokeStyle = '#2a2a2a';
        ctx.lineWidth = 1;
        ctx.strokeRect(bx + 0.5, by + 0.5, bw, bh);
        ctx.strokeStyle = RED;
        ctx.lineWidth = 2;
        ctx.beginPath();
        ctx.moveTo(bx + 3, by + 11);
        ctx.lineTo(bx + 25, by + 11);
        ctx.stroke();
        ctx.fillStyle = '#000';
        ctx.textAlign = 'left';
        ctx.textBaseline = 'alphabetic';
        ctx.fillText(eq, bx + 28, by + 16);
        const rTxt = 'R';
        const vTxt = ` = ${r2.toFixed(2)}`;
        const wR = ctx.measureText(rTxt).width;
        const wV = ctx.measureText(vTxt).width;
        ctx.font = `10px ${SERIF}`;
        const wS = ctx.measureText('2').width;
        const total = wR + wS + wV;
        let cx = bx + bw / 2 + 6 - total / 2;
        ctx.font = `15px ${SERIF}`;
        ctx.fillText(rTxt, cx, by + 38);
        cx += wR;
        ctx.font = `10px ${SERIF}`;
        ctx.fillText('2', cx, by + 31);
        cx += wS;
        ctx.font = `15px ${SERIF}`;
        ctx.fillText(vTxt, cx, by + 38);

        // axis titles
        ctx.fillStyle = '#333';
        ctx.font = `15px ${SERIF}`;
        ctx.textAlign = 'center';
        ctx.fillText('Temperatura observada [°C]', (l + r) / 2, btm + 36);
        ctx.save();
        ctx.translate(l - 30, (t + btm) / 2);
        ctx.rotate(-Math.PI / 2);
        ctx.font = `${yTitleSize}px ${SERIF}`;
        ctx.textBaseline = 'middle';
        ctx.fillText('Temperatura estimada [°C]', 0, 0);
        ctx.restore();
        ctx.restore();
      },
    };

    const tickFont = { family: SERIF, size: 15 };
    const chart = new Chart(ref.current, {
      type: 'scatter',
      data: {
        datasets: [
          {
            type: 'line',
            data: [
              { x: xMin, y: a + b * xMin },
              { x: xMax, y: a + b * xMax },
            ],
            borderColor: RED,
            borderWidth: 2,
            pointRadius: 0,
            fill: false,
            order: 0,
          } as any,
          {
            type: 'line',
            data: [
              { x: lo, y: lo },
              { x: hi, y: hi },
            ],
            borderColor: '#111',
            borderWidth: 1,
            borderDash: [5, 4],
            pointRadius: 0,
            fill: false,
            order: 1,
          } as any,
          {
            type: 'scatter',
            data: pts.map(([x, y]) => ({ x, y })),
            pointRadius: 3.2,
            pointBorderWidth: 1.1,
            borderColor: BLUE,
            backgroundColor: 'rgba(0,0,0,0)',
            order: 2,
          } as any,
        ],
      },
      options: {
        animation: false,
        responsive: false,
        devicePixelRatio: 1,
        layout: { padding: { left: 0, top: PAD_T, right: PAD_R, bottom: 0 } },
        plugins: { legend: { display: false }, tooltip: { enabled: false } },
        scales: {
          x: {
            type: 'linear',
            min: lo,
            max: hi,
            ticks: { stepSize: tickStep, color: '#333', font: tickFont, padding: 6, maxRotation: 0, autoSkip: false },
            grid: { color: '#e4e4e4', drawTicks: false },
            border: { display: false },
            afterFit: (s: any) => {
              s.height = PAD_B;
            },
          },
          y: {
            type: 'linear',
            min: lo,
            max: hi,
            ticks: { stepSize: tickStep, color: '#333', font: tickFont, padding: 6, autoSkip: false },
            grid: { color: '#e4e4e4', drawTicks: false },
            border: { display: false },
            afterFit: (s: any) => {
              s.width = PAD_L;
            },
          },
        },
      } as any,
      plugins: [framePlugin],
    });
    return () => chart.destroy();
  }, [pts, range, fit, yTitleSize]);

  return (
    <canvas
      ref={ref}
      width={W}
      height={H}
      style={{ position: 'absolute', left: left - PAD_L, top: top - PAD_T, width: W, height: H }}
    />
  );
}

// top offset that puts a one-line box's baseline at the given y (line-height = font size)
const baseTop = (baseline: number, size: number) => baseline - 0.8375 * size;

export default function App() {
  return (
    <div
      style={{
        position: 'absolute',
        left: 0,
        top: 0,
        width: PAGE_W,
        height: PAGE_H,
        background: '#fff',
        overflow: 'hidden',
        fontFamily: SERIF,
        color: '#000',
      }}
    >
      <div style={{ position: 'absolute', left: 0, top: baseTop(0, 24), fontSize: 24, lineHeight: '24px', whiteSpace: 'nowrap' }}>
        (A)
      </div>
      <div style={{ position: 'absolute', left: 60, top: baseTop(0, 24), fontSize: 24, lineHeight: '24px', whiteSpace: 'nowrap' }}>
        Temperatura máxima
      </div>
      {stations.map((name, r) => (
        <React.Fragment key={name}>
          {panelLetters.map((letter, c) => (
            <React.Fragment key={letter}>
              <Panel
                pts={stationPoints[r][c]}
                range={stationRanges[r][c]}
                fit={stationFits[r][c]}
                left={plotLefts[r][c]}
                top={plotTops[r]}
                yTitleSize={yTitleSizes[r]}
              />
              <div
                style={{
                  position: 'absolute',
                  left: letterLefts[r][c],
                  top: baseTop(letterBaselines[r], 24),
                  fontSize: 24,
                  lineHeight: '24px',
                }}
              >
                {letter}
              </div>
            </React.Fragment>
          ))}
          <div
            style={{
              position: 'absolute',
              left: 0,
              width: 1204,
              textAlign: 'center',
              top: baseTop(titleBaselines[r], 28),
              fontSize: 28,
              lineHeight: '28px',
              whiteSpace: 'nowrap',
            }}
          >
            {name}
          </div>
        </React.Fragment>
      ))}
    </div>
  );
}
